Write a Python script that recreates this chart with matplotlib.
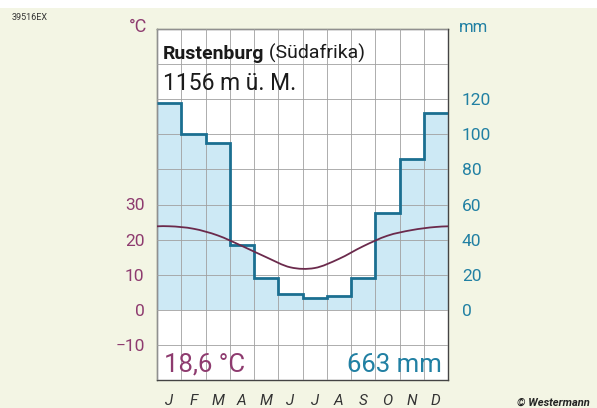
import numpy as np
import matplotlib
matplotlib.use("Agg")
import matplotlib.pyplot as plt
from matplotlib.path import Path
from matplotlib.patches import PathPatch, Rectangle

plt.rcParams['font.family'] = ['Roboto', 'DejaVu Sans']

# climate data Rustenburg
months = ['J', 'F', 'M', 'A', 'M', 'J', 'J', 'A', 'S', 'O', 'N', 'D']
temp = [23.8, 23.1, 21.2, 18.2, 15.0, 12.1, 11.9, 14.5, 18.1, 21.1, 22.7, 23.6]
precip = [118, 100, 95, 37, 18, 9, 7, 8, 18, 55, 86, 112]
temp_ticks = [-10, 0, 10, 20, 30]
precip_ticks = [0, 20, 40, 60, 80, 100, 120]

C_TEMP = '#8e3b6f'
C_TLINE = '#6b2a4c'
C_PREC = '#2180a3'
C_PLINE = '#1b6f91'
C_FILL = '#cde9f5'
BG = '#f3f5e4'

fig = plt.figure(figsize=(5.97, 4.08), dpi=100, facecolor=BG)
fig.patches.append(Rectangle((0, 0.98), 1, 0.02, transform=fig.transFigure,
                             facecolor='white', edgecolor='none', zorder=0))
ax = fig.add_axes([157 / 597, 28 / 408, 291 / 597, 351 / 408])
ax.set_xlim(0, 12)
ax.set_ylim(-20, 80)
ax.set_facecolor('white')

# precipitation (20 mm = 10 °C)
p = np.array(precip) / 2.0
edges = np.arange(13)
ax.stairs(p, edges, baseline=0, fill=True, color=C_FILL, zorder=1)
ax.stairs(p, edges, baseline=None, color=C_PLINE, linewidth=2.0, zorder=3)

# temperature curve, smooth through month centres (periodic)
xc = np.arange(12) + 0.5
xs = np.concatenate([xc[-2:] - 12, xc, xc[:2] + 12])
ys = np.concatenate([temp[-2:], temp, temp[:2]])
verts = [(xs[1], ys[1])]
codes = [Path.MOVETO]
for i in range(1, len(xs) - 2):
    p0 = np.array([xs[i - 1], ys[i - 1]])
    p1 = np.array([xs[i], ys[i]])
    p2 = np.array([xs[i + 1], ys[i + 1]])
    p3 = np.array([xs[i + 2], ys[i + 2]])
    c1 = p1 + (p2 - p0) / 6
    c2 = p2 - (p3 - p1) / 6
    verts += [tuple(c1), tuple(c2), tuple(p2)]
    codes += [Path.CURVE4] * 3
ax.add_patch(PathPatch(Path(verts, codes), facecolor='none', edgecolor=C_TLINE,
                       linewidth=1.3, zorder=4))

# grid
ax.set_axisbelow(False)
ax.set_xticks(edges, minor=False)
ax.set_yticks(np.arange(-20, 81, 10))
ax.grid(True, color='#a0a0a0', linewidth=0.6)
ax.set_xticks(xc, minor=True)
ax.tick_params(axis='x', which='major', length=0, labelbottom=False)
ax.tick_params(axis='x', which='minor', length=0, pad=10)
ax.set_xticklabels(months, minor=True, fontsize=11, style='italic', color='#333333')
ax.set_yticklabels([str(t).replace('-', '\u2212') if t in temp_ticks else ''
                    for t in range(-20, 81, 10)])
ax.tick_params(axis='y', length=0, pad=9, labelsize=12.5, labelcolor=C_TEMP)
for s in ax.spines.values():
    s.set_color('#444444')
    s.set_linewidth(1.0)

ax2 = ax.twinx()
ax2.set_ylim(-40, 160)
ax2.set_yticks(precip_ticks)
ax2.tick_params(axis='y', length=0, pad=10, labelsize=12.5, labelcolor=C_PREC)
ax2.patch.set_visible(False)
for s in ax2.spines.values():
    s.set_visible(False)

# units
fig.text(138 / 597, 1 - 27 / 408, '°C', color=C_TEMP, fontsize=13, ha='center', va='center')
fig.text(474 / 597, 1 - 27 / 408, 'mm', color=C_PREC, fontsize=12, ha='center', va='center')

# title
t1 = ax.text(0.02, 0.915, 'Rustenburg', transform=ax.transAxes, fontsize=14,
             fontweight='bold', color='#1a1a1a', va='baseline')
ax.annotate(' (Südafrika)', xy=(1, 0), xycoords=t1, fontsize=14, color='#1a1a1a',
            va='bottom', ha='left')
ax.text(0.02, 0.826, '1156 m ü. M.', transform=ax.transAxes, fontsize=16.5,
        color='#1a1a1a', va='baseline')

# annual values
ax.text(0.025, 0.023, '18,6 °C', transform=ax.transAxes, fontsize=18.5,
        color=C_TEMP, va='baseline')
ax.text(0.98, 0.023, '663 mm', transform=ax.transAxes, fontsize=18.5,
        color=C_PREC, va='baseline', ha='right')

fig.text(12 / 597, 1 - 18 / 408, '39516EX', fontsize=6.5, color='#333333', va='center')
fig.text(590 / 597, 1 - 403 / 408, '© Westermann', fontsize=8, fontweight='bold',
         style='italic', color='#222222', ha='right', va='center')

fig.savefig('out.png', dpi=100, facecolor=BG)
